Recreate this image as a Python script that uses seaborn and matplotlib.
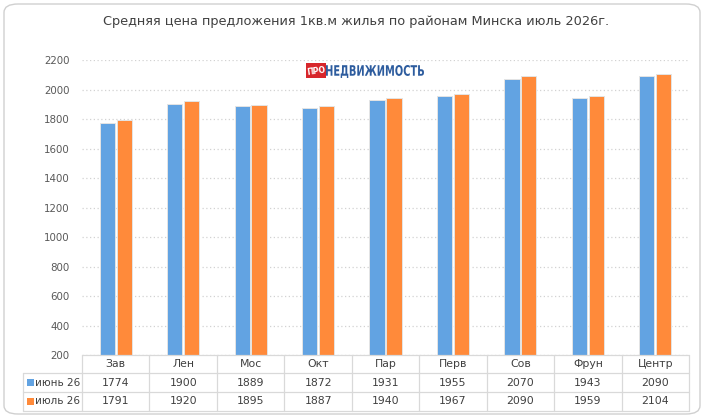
import matplotlib
matplotlib.use("Agg")
import matplotlib.pyplot as plt
import matplotlib.transforms as mtransforms
from matplotlib.patches import FancyBboxPatch, Rectangle, PathPatch
from matplotlib.textpath import TextPath
from matplotlib.font_manager import FontProperties
import seaborn as sns
import pandas as pd

categories = ["Зав", "Лен", "Мос", "Окт", "Пар", "Перв", "Сов", "Фрун", "Центр"]
june = [1774, 1900, 1889, 1872, 1931, 1955, 2070, 1943, 2090]
july = [1791, 1920, 1895, 1887, 1940, 1967, 2090, 1959, 2104]
series_names = ["июнь 26", "июль 26"]
colors = ["#62A3E2", "#FF8A3A"]
yticks = [200, 400, 600, 800, 1000, 1200, 1400, 1600, 1800, 2000, 2200]
title = "Средняя цена предложения 1кв.м жилья по районам Минска июль 2026г."

df = pd.DataFrame({
    "district": categories * 2,
    "value": june + july,
    "series": [series_names[0]] * len(categories) + [series_names[1]] * len(categories),
})

sns.set_style("white")
plt.rcParams['font.family'] = ['DejaVu Sans']

W, H = 704, 418
fig = plt.figure(figsize=(W / 100, H / 100), dpi=100)
L, R, T, B = 82, 689, 60, 355
ax = fig.add_axes([L / W, 1 - B / H, (R - L) / W, (B - T) / H])

sns.barplot(data=df, x="district", y="value", hue="series", order=categories,
            hue_order=series_names, palette=colors, saturation=1, width=0.5, gap=0.1,
            edgecolor="#E4E4E4", linewidth=0.7, ax=ax, legend=False)

ax.set_ylim(200, 2200)
ax.set_xlim(-0.5, len(categories) - 0.5)
ax.set_yticks(yticks)
ax.set_yticklabels([str(v) for v in yticks], fontsize=7.4, color="#595959")
ax.tick_params(axis="y", length=0, pad=9)
ax.set_xticks([])
ax.set_xlabel("")
ax.set_ylabel("")
for s in ["top", "right", "left", "bottom"]:
    ax.spines[s].set_visible(False)
ax.yaxis.grid(True, linestyle=(0, (1, 2)), color="#D2D2D2", linewidth=0.9)
ax.set_axisbelow(True)

# Data table
grid_c = "#D9D9D9"
tr = mtransforms.blended_transform_factory(ax.transData, fig.transFigure)
def fy(px):
    return 1 - px / H
rows = [355, 373, 392, 411]
n = len(categories)
for i, y in enumerate(rows):
    x0 = L if i == 0 else 23
    fig.add_artist(plt.Line2D([x0 / W, R / W], [fy(y), fy(y)], color=grid_c, lw=0.9))
for k in range(n + 1):
    xk = k - 0.5
    ax.add_line(plt.Line2D([xk, xk], [fy(355), fy(411)], transform=tr, color=grid_c, lw=0.9, clip_on=False))
fig.add_artist(plt.Line2D([23 / W, 23 / W], [fy(373), fy(411)], color=grid_c, lw=0.9))

tc = "#404040"
fs = 7.8
for i, c in enumerate(categories):
    ax.text(i, fy(364), c, transform=tr, ha="center", va="center", fontsize=fs, color=tc)
    ax.text(i, fy(382.5), str(june[i]), transform=tr, ha="center", va="center", fontsize=fs, color=tc)
    ax.text(i, fy(401.5), str(july[i]), transform=tr, ha="center", va="center", fontsize=fs, color=tc)

for j, (name, col) in enumerate(zip(series_names, colors)):
    yc = [382.5, 401.5][j]
    fig.add_artist(Rectangle((27 / W, fy(yc + 3.5)), 7 / W, 7 / H, facecolor=col, edgecolor="none"))
    fig.text(35 / W, fy(yc), name, ha="left", va="center", fontsize=7.5, color=tc)

# Title
fig.text(356 / W, fy(21), title, ha="center", va="center", fontsize=9.3, color="#404040")

# Logo watermark
fig.add_artist(Rectangle((306 / W, fy(78)), 20 / W, 15 / H, facecolor="#D7262B", edgecolor="none",
                         transform=fig.transFigure))
fig.text(316 / W, fy(71), "ПРО", ha="center", va="center", fontsize=5.5, color="white",
         fontweight="bold", rotation=8)
fp = FontProperties(family="DejaVu Sans", weight="bold")
tp = TextPath((0, 0), "НЕДВИЖИМОСТЬ", size=14, prop=fp)
bb = tp.get_extents()
sx = 98 / bb.width
sy = 13 / bb.height
logo_t = (mtransforms.Affine2D().translate(-bb.x0, -bb.y0).scale(sx, sy)
          .translate(326, H - 78))
fig.add_artist(PathPatch(tp, transform=logo_t + mtransforms.Affine2D().scale(1 / W, 1 / H) + fig.transFigure,
                         facecolor="#2D5C9E", edgecolor="none"))

# Outer rounded border
fig.add_artist(FancyBboxPatch((4 / W, 4 / H), (W - 8) / W, (H - 8) / H,
                              boxstyle="round,pad=0,rounding_size=0.02", transform=fig.transFigure,
                              facecolor="none", edgecolor="#D0D0D0", lw=1.0))

fig.savefig("out.png", dpi=100)
